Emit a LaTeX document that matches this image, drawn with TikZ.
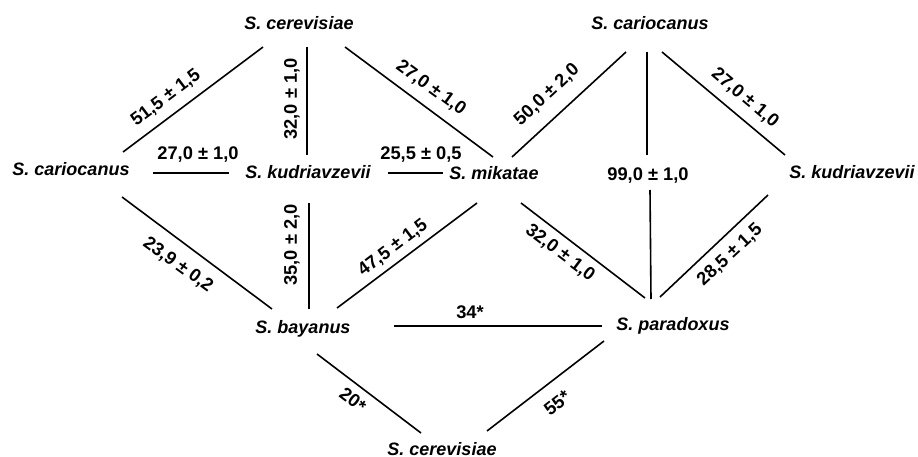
\documentclass[tikz,border=0pt]{standalone}
\usepackage{fontspec}
\setmainfont{Liberation Sans}
\usetikzlibrary{calc}
\tikzset{
  species/.style={anchor=base, inner sep=0pt, font=\fontsize{18}{20}\selectfont\bfseries\itshape},
  val/.style={anchor=center, inner sep=0pt, font=\fontsize{18.3}{20}\selectfont\bfseries},
  edge/.style={line width=1.6pt, black}
}
\begin{document}
\begin{tikzpicture}[x=1pt,y=-1pt]
\useasboundingbox[fill=white] (0,0) rectangle (918,457);
% species
\node[species] (cerT) at (299,30) {S. cerevisiae};
\node[species] (carL) at (71,176) {S. cariocanus};
\node[species] (kudM) at (308,179) {S. kudriavzevii};
\node[species] (mik) at (494,180) {S. mikatae};
\node[species] (carR) at (650,30) {S. cariocanus};
\node[species] (kudR) at (852,179) {S. kudriavzevii};
\node[species] (bay) at (303,333) {S. bayanus};
\node[species] (par) at (673,330) {S. paradoxus};
\node[species] (cerB) at (442,455) {S. cerevisiae};
% values
\node[val, rotate=37] (l515) at (166,98) {51,5 ± 1,5};
\node[val, rotate=90] (l320a) at (292,99) {32,0 ± 1,0};
\node[val, rotate=-36] (l270a) at (431,88) {27,0 ± 1,0};
\node[val] (l270b) at (198,155) {27,0 ± 1,0};
\node[val] (l255) at (421,155) {25,5 ± 0,5};
\node[val, rotate=43] (l500) at (547,95) {50,0 ± 2,0};
\node[val] (l99) at (648,176) {99,0 ± 1,0};
\node[val, rotate=-40] (l270c) at (745,98) {27,0 ± 1,0};
\node[val, rotate=43] (l285) at (730,255) {28,5 ± 1,5};
\node[val, rotate=-37] (l320b) at (560,253) {32,0 ± 1,0};
\node[val, rotate=37] (l475) at (393,248) {47,5 ± 1,5};
\node[val, rotate=90] (l350) at (292,245) {35,0 ± 2,0};
\node[val, rotate=-36] (l239) at (178,265) {23,9 ± 0,2};
\node[val] (l34) at (470,312) {34*};
\node[val, rotate=-37] (l20) at (353,400) {20*};
\node[val, rotate=38] (l55) at (557,403) {55*};
% edges
\draw[edge] ($(carL.base)+(52,-24)$) -- ($(cerT.base)+(-36,17)$);
\draw[edge] ($(cerT.base)+(8,17)$) -- ($(kudM.base)+(-1,-24)$);
\draw[edge] ($(cerT.base)+(46,17)$) -- ($(mik.base)+(-1,-23)$);
\draw[edge] ($(carL.base)+(82,-3)$) -- ($(kudM.base)+(-79,-6)$);
\draw[edge] ($(kudM.base)+(80,-6)$) -- ($(mik.base)+(-51,-7)$);
\draw[edge] ($(carR.base)+(-24,22)$) -- ($(mik.base)+(18,-23)$);
\draw[edge] ($(carR.base)+(-3,22)$) -- ($(l99.center)+(-1,-21)$);
\draw[edge] ($(l99.center)+(2,14)$) -- ($(par.base)+(-22,-31)$);
\draw[edge] ($(carR.base)+(12,22)$) -- ($(kudR.base)+(-67,-24)$);
\draw[edge] ($(kudR.base)+(-84,16)$) -- ($(par.base)+(-13,-33)$);
\draw[edge] ($(mik.base)+(27,23)$) -- ($(par.base)+(-28,-32)$);
\draw[edge] ($(mik.base)+(-17,23)$) -- ($(bay.base)+(34,-25)$);
\draw[edge] ($(kudM.base)+(1,24)$) -- ($(bay.base)+(6,-24)$);
\draw[edge] ($(carL.base)+(51,21)$) -- ($(bay.base)+(-31,-24)$);
\draw[edge] ($(bay.base)+(91,-7)$) -- ($(par.base)+(-71,-4)$);
\draw[edge] ($(bay.base)+(14,21)$) -- ($(cerB.base)+(-21,-22)$);
\draw[edge] ($(par.base)+(-69,11)$) -- ($(cerB.base)+(45,-24)$);
\end{tikzpicture}
\end{document}
